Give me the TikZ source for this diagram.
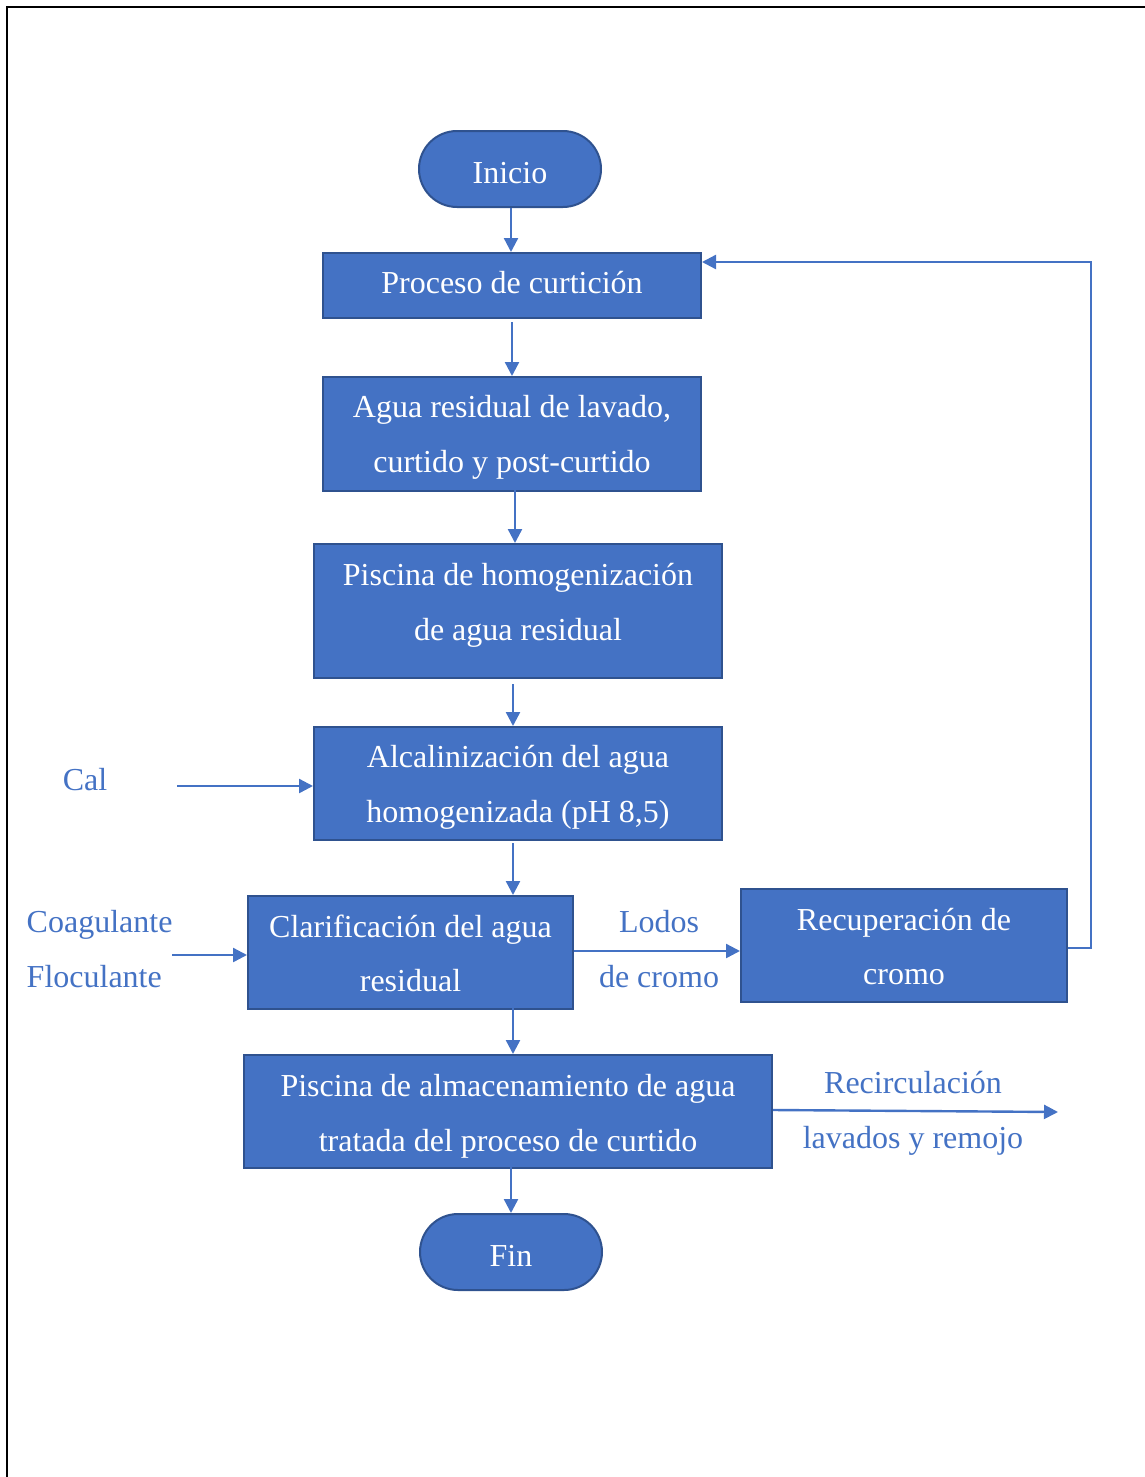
\documentclass[tikz,border=0pt]{standalone}
\usepackage{fontspec}
\setmainfont{Liberation Serif}
\usetikzlibrary{arrows.meta,shapes.misc}
\definecolor{boxfill}{HTML}{4472C4}
\definecolor{boxedge}{HTML}{2F528F}
\definecolor{flow}{HTML}{4472C4}
\begin{document}
\begin{tikzpicture}[x=0.75pt,y=-0.75pt,
  txt/.style={font=\fontsize{24}{41}\selectfont},
  procbox/.style={draw=boxedge,line width=1.5pt,fill=boxfill,
    inner sep=0pt,anchor=north west},
  term/.style={draw=boxedge,line width=1.5pt,fill=boxfill,
    rounded rectangle,inner sep=0pt,minimum width=136.5pt,minimum height=57pt},
  boxtext/.style={txt,text=white,align=center,inner sep=0pt},
  lbl/.style={txt,text=flow,align=center},
  flowarrow/.style={draw=flow,line width=1.8pt,-{Triangle[length=10.5pt,width=10.5pt]}}]
\useasboundingbox (0,0) rectangle (1145,1477);
% page frame (top and left edges)
\draw[line width=2pt] (7,1477) -- (7,7) -- (1145,7);

% terminals
\node[term] (ini) at (510,169) {};
\node[term] (fin) at (511,1252) {};

% process boxes
\node[procbox,minimum width=283.5pt,minimum height=48.75pt] (cur) at (322,252) {};
\node[procbox,minimum width=283.5pt,minimum height=85.5pt] (agua) at (322,376) {};
\node[procbox,minimum width=306pt,minimum height=100.5pt] (hom) at (313,543) {};
\node[procbox,minimum width=306pt,minimum height=84.75pt] (alc) at (313,726) {};
\node[procbox,minimum width=243.75pt,minimum height=84.75pt] (cla) at (247,895) {};
\node[procbox,minimum width=244.5pt,minimum height=84.75pt] (rec) at (740,888) {};
\node[procbox,minimum width=396pt,minimum height=84.75pt] (alm) at (243,1054) {};

% texts inside the shapes
\node[boxtext] (iniT) at ([yshift=-3pt]ini.center) {Inicio};
\node[boxtext] (finT) at ([yshift=-3pt]fin.center) {Fin};
\node[boxtext] (curT) at ([yshift=2.25pt]cur.center) {Proceso de curtición};
\node[boxtext] (aguaT) at ([yshift=-2.6pt]agua.center) {Agua residual de lavado,\\curtido y post-curtido};
\node[boxtext] (homT) at ([yshift=4.5pt]hom.center) {Piscina de homogenización\\de agua residual};
\node[boxtext] (alcT) at ([yshift=-3pt]alc.center) {Alcalinización del agua\\homogenizada (pH 8,5)};
\node[boxtext] (claT) at ([yshift=-0.75pt]cla.center) {Clarificación del agua\\residual};
\node[boxtext] (recT) at ([yshift=-0.75pt]rec.center) {Recuperación de\\cromo};
\node[boxtext] (almT) at ([yshift=-3.75pt]alm.center) {Piscina de almacenamiento de agua\\tratada del proceso de curtido};

% side labels
\node[lbl] (cal) at (85,780) {Cal};
\node[lbl,align=left,anchor=west] (coag) at (22,949) {Coagulante\\Floculante};
\node[lbl] (lodos) at (659,949) {Lodos\\de cromo};
\node[lbl] (recir) at (913,1113) {Recirculación\\lavados y remojo};

% free ends of input and output lines
\coordinate (calS) at (177,786);
\coordinate (coagS) at (172,955);
\coordinate (recirE) at (1058,1112);

% main flow
\draw[flowarrow] (ini.south -| 511,0) -- (511,252);
\draw[flowarrow] (512,322) -- (agua.north -| 512,0);
\draw[flowarrow] (515,490) -- (hom.north -| 515,0);
\draw[flowarrow] (513,684) -- (alc.north -| 513,0);
\draw[flowarrow] (513,843) -- (cla.north -| 513,0);
\draw[flowarrow] (513,1008) -- (alm.north -| 513,0);
\draw[flowarrow] (511,1167) -- (fin.north -| 511,0);

% inputs
\draw[flowarrow] (calS) -- (calS -| alc.west);
\draw[flowarrow] (coagS) -- (coagS -| cla.west);

% sludge to chrome recovery and return loop
\draw[flowarrow] (cla.east |- 0,951) -- (rec.west |- 0,951);
\draw[flowarrow] (rec.east |- 0,948) -- (1091,948) -- (1091,262) -- (cur.east |- 0,262);

% recirculation output
\draw[flowarrow] (alm.east |- 0,1110) -- (recirE);
\end{tikzpicture}
\end{document}
